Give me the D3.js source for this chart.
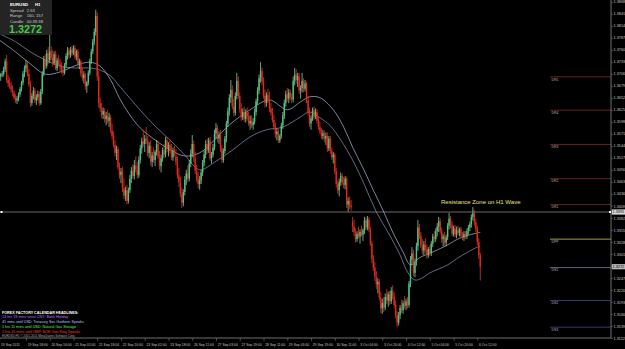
<!DOCTYPE html>
<html><head><meta charset="utf-8">
<script src="https://cdn.jsdelivr.net/npm/d3@7"></script>
<style>html,body{margin:0;padding:0;background:#000;overflow:hidden}text{font-family:"Liberation Sans",Arial,sans-serif}</style>
</head><body>
<svg id="c" width="625" height="349"></svg>
<script>
const symbol = "EURUSD", timeframe = "H1";
const opens = [1.3712,1.3700,1.3704,1.3706,1.3716,1.3734,1.3692,1.3684,1.3678,1.3670,
1.3662,1.3652,1.3646,1.3650,1.3660,1.3672,1.3686,1.3706,1.3718,1.3726,
1.3706,1.3682,1.3640,1.3656,1.3668,1.3646,1.3654,1.3660,1.3640,1.3666,
1.3706,1.3738,1.3724,1.3752,1.3736,1.3756,1.3742,1.3730,1.3750,1.3718,
1.3736,1.3728,1.3720,1.3712,1.3708,1.3726,1.3746,1.3758,1.3748,1.3760,
1.3752,1.3764,1.3744,1.3756,1.3728,1.3734,1.3706,1.3696,1.3704,1.3678,
1.3686,1.3708,1.3734,1.3756,1.3778,1.3800,1.3836,1.3700,1.3640,1.3628,
1.3614,1.3622,1.3604,1.3612,1.3600,1.3608,1.3578,1.3566,1.3546,1.3528,
1.3536,1.3496,1.3478,1.3486,1.3448,1.3432,1.3444,1.3420,1.3444,1.3470,
1.3488,1.3476,1.3500,1.3490,1.3478,1.3512,1.3538,1.3554,1.3548,1.3560,
1.3556,1.3528,1.3544,1.3508,1.3522,1.3512,1.3530,1.3548,1.3520,1.3498,
1.3516,1.3534,1.3524,1.3556,1.3538,1.3546,1.3532,1.3518,1.3534,1.3520,
1.3508,1.3478,1.3462,1.3436,1.3416,1.3440,1.3468,1.3482,1.3470,1.3504,
1.3526,1.3548,1.3516,1.3488,1.3470,1.3458,1.3466,1.3484,1.3506,1.3524,
1.3548,1.3534,1.3556,1.3516,1.3524,1.3540,1.3572,1.3584,1.3560,1.3568,
1.3538,1.3512,1.3532,1.3560,1.3594,1.3622,1.3652,1.3670,1.3632,1.3618,
1.3656,1.3690,1.3656,1.3626,1.3608,1.3620,1.3604,1.3618,1.3610,1.3594,
1.3600,1.3590,1.3598,1.3620,1.3644,1.3668,1.3696,1.3712,1.3688,1.3656,
1.3640,1.3658,1.3648,1.3628,1.3618,1.3602,1.3586,1.3570,1.3576,1.3556,
1.3566,1.3590,1.3612,1.3640,1.3660,1.3650,1.3664,1.3652,1.3648,1.3690,
1.3704,1.3692,1.3700,1.3668,1.3674,1.3690,1.3672,1.3684,1.3646,1.3618,
1.3594,1.3606,1.3624,1.3610,1.3620,1.3600,1.3586,1.3576,1.3566,1.3572,
1.3560,1.3566,1.3538,1.3560,1.3532,1.3518,1.3524,1.3486,1.3458,1.3444,
1.3462,1.3476,1.3462,1.3456,1.3470,1.3412,1.3420,1.3410,1.3372,1.3362,
1.3350,1.3334,1.3346,1.3340,1.3350,1.3344,1.3354,1.3376,1.3360,1.3378,
1.3356,1.3324,1.3290,1.3270,1.3250,1.3232,1.3238,1.3202,1.3178,1.3190,
1.3180,1.3204,1.3196,1.3210,1.3194,1.3218,1.3204,1.3186,1.3162,1.3146,
1.3164,1.3180,1.3174,1.3190,1.3184,1.3194,1.3186,1.3234,1.3288,1.3302,
1.3258,1.3282,1.3318,1.3360,1.3342,1.3320,1.3308,1.3322,1.3310,1.3298,
1.3312,1.3302,1.3324,1.3340,1.3334,1.3352,1.3362,1.3374,1.3352,1.3334,
1.3340,1.3326,1.3338,1.3364,1.3380,1.3366,1.3346,1.3358,1.3344,1.3354,
1.3348,1.3356,1.3342,1.3338,1.3346,1.3340,1.3352,1.3360,1.3368,1.3384,
1.3392,1.3372,1.3358,1.3328,1.3298];
const highs = [1.3718,1.3708,1.3712,1.3722,1.3740,1.3748,1.3702,1.3697,1.3688,1.3680,
1.3668,1.3660,1.3656,1.3664,1.3676,1.3690,1.3712,1.3724,1.3737,1.3734,
1.3716,1.3690,1.3662,1.3676,1.3674,1.3660,1.3668,1.3666,1.3672,1.3712,
1.3746,1.3750,1.3760,1.3766,1.3793,1.3768,1.3760,1.3756,1.3758,1.3742,
1.3748,1.3740,1.3732,1.3722,1.3730,1.3752,1.3766,1.3764,1.3766,1.3768,
1.3770,1.3770,1.3760,1.3762,1.3740,1.3738,1.3720,1.3712,1.3708,1.3690,
1.3714,1.3740,1.3762,1.3784,1.3808,1.3850,1.3844,1.3712,1.3652,1.3640,
1.3630,1.3628,1.3620,1.3624,1.3618,1.3614,1.3594,1.3576,1.3556,1.3544,
1.3542,1.3506,1.3494,1.3496,1.3470,1.3452,1.3456,1.3450,1.3478,1.3496,
1.3502,1.3512,1.3520,1.3508,1.3520,1.3546,1.3562,1.3580,1.3568,1.3586,
1.3566,1.3552,1.3556,1.3530,1.3540,1.3534,1.3557,1.3556,1.3532,1.3524,
1.3540,1.3548,1.3564,1.3562,1.3552,1.3558,1.3548,1.3540,1.3544,1.3536,
1.3520,1.3494,1.3474,1.3450,1.3446,1.3476,1.3490,1.3500,1.3512,1.3536,
1.3568,1.3556,1.3530,1.3502,1.3484,1.3476,1.3490,1.3512,1.3534,1.3556,
1.3560,1.3562,1.3564,1.3530,1.3548,1.3580,1.3595,1.3590,1.3576,1.3580,
1.3546,1.3538,1.3566,1.3600,1.3630,1.3660,1.3692,1.3680,1.3650,1.3664,
1.3708,1.3700,1.3664,1.3640,1.3628,1.3632,1.3626,1.3630,1.3620,1.3612,
1.3612,1.3606,1.3628,1.3650,1.3676,1.3704,1.3732,1.3720,1.3698,1.3670,
1.3664,1.3672,1.3666,1.3640,1.3630,1.3614,1.3596,1.3584,1.3582,1.3570,
1.3596,1.3620,1.3648,1.3668,1.3674,1.3672,1.3670,1.3662,1.3700,1.3719,
1.3716,1.3708,1.3708,1.3680,1.3708,1.3696,1.3692,1.3688,1.3656,1.3630,
1.3612,1.3630,1.3632,1.3628,1.3626,1.3608,1.3598,1.3584,1.3580,1.3578,
1.3574,1.3574,1.3566,1.3566,1.3540,1.3530,1.3528,1.3494,1.3466,1.3470,
1.3484,1.3482,1.3474,1.3476,1.3474,1.3428,1.3430,1.3422,1.3384,1.3378,
1.3358,1.3352,1.3362,1.3356,1.3364,1.3358,1.3384,1.3382,1.3386,1.3384,
1.3362,1.3330,1.3298,1.3282,1.3262,1.3246,1.3244,1.3216,1.3200,1.3204,
1.3212,1.3222,1.3216,1.3218,1.3226,1.3230,1.3214,1.3196,1.3172,1.3170,
1.3186,1.3198,1.3196,1.3206,1.3200,1.3204,1.3240,1.3296,1.3316,1.3310,
1.3290,1.3326,1.3377,1.3368,1.3350,1.3334,1.3330,1.3336,1.3322,1.3316,
1.3320,1.3330,1.3346,1.3352,1.3358,1.3370,1.3384,1.3380,1.3360,1.3346,
1.3350,1.3344,1.3370,1.3393,1.3386,1.3374,1.3364,1.3366,1.3362,1.3364,
1.3360,1.3362,1.3350,1.3352,1.3352,1.3358,1.3366,1.3374,1.3390,1.3406,
1.3400,1.3380,1.3364,1.3336,1.3304];
const lows = [1.3695,1.3690,1.3698,1.3700,1.3710,1.3686,1.3676,1.3672,1.3664,1.3655,
1.3648,1.3640,1.3638,1.3644,1.3654,1.3666,1.3680,1.3698,1.3710,1.3700,
1.3676,1.3631,1.3634,1.3648,1.3640,1.3636,1.3646,1.3634,1.3636,1.3660,
1.3700,1.3716,1.3718,1.3728,1.3730,1.3736,1.3722,1.3726,1.3714,1.3712,
1.3724,1.3712,1.3706,1.3700,1.3704,1.3720,1.3738,1.3740,1.3742,1.3746,
1.3748,1.3738,1.3736,1.3722,1.3716,1.3700,1.3690,1.3684,1.3670,1.3663,
1.3680,1.3702,1.3728,1.3750,1.3770,1.3792,1.3690,1.3630,1.3620,1.3606,
1.3604,1.3596,1.3590,1.3594,1.3586,1.3572,1.3558,1.3540,1.3520,1.3512,
1.3490,1.3470,1.3460,1.3440,1.3424,1.3420,1.3412,1.3414,1.3438,1.3460,
1.3470,1.3468,1.3484,1.3470,1.3472,1.3504,1.3526,1.3542,1.3530,1.3548,
1.3520,1.3516,1.3500,1.3496,1.3506,1.3498,1.3522,1.3514,1.3490,1.3484,
1.3508,1.3516,1.3518,1.3530,1.3520,1.3526,1.3512,1.3510,1.3520,1.3500,
1.3470,1.3451,1.3428,1.3404,1.3408,1.3432,1.3456,1.3462,1.3464,1.3496,
1.3518,1.3508,1.3480,1.3462,1.3448,1.3445,1.3458,1.3476,1.3498,1.3516,
1.3526,1.3528,1.3510,1.3504,1.3518,1.3534,1.3560,1.3552,1.3548,1.3530,
1.3505,1.3506,1.3526,1.3552,1.3586,1.3612,1.3640,1.3626,1.3610,1.3612,
1.3648,1.3650,1.3618,1.3600,1.3602,1.3598,1.3596,1.3600,1.3588,1.3580,
1.3584,1.3580,1.3592,1.3612,1.3636,1.3660,1.3686,1.3680,1.3650,1.3630,
1.3632,1.3640,1.3620,1.3612,1.3596,1.3580,1.3562,1.3556,1.3550,1.3550,
1.3560,1.3582,1.3604,1.3632,1.3644,1.3640,1.3646,1.3640,1.3642,1.3680,
1.3684,1.3676,1.3660,1.3650,1.3664,1.3664,1.3666,1.3640,1.3612,1.3586,
1.3580,1.3600,1.3602,1.3604,1.3594,1.3580,1.3570,1.3560,1.3558,1.3552,
1.3546,1.3530,1.3532,1.3526,1.3512,1.3504,1.3480,1.3450,1.3436,1.3430,
1.3454,1.3456,1.3448,1.3446,1.3404,1.3396,1.3402,1.3398,1.3350,1.3340,
1.3326,1.3328,1.3336,1.3324,1.3340,1.3330,1.3346,1.3354,1.3354,1.3350,
1.3318,1.3280,1.3262,1.3240,1.3222,1.3212,1.3196,1.3168,1.3166,1.3170,
1.3174,1.3188,1.3182,1.3186,1.3188,1.3198,1.3180,1.3156,1.3136,1.3140,
1.3154,1.3168,1.3166,1.3178,1.3174,1.3178,1.3180,1.3226,1.3276,1.3250,
1.3248,1.3274,1.3308,1.3334,1.3314,1.3300,1.3298,1.3302,1.3290,1.3292,
1.3296,1.3296,1.3316,1.3326,1.3328,1.3340,1.3350,1.3346,1.3326,1.3318,
1.3320,1.3318,1.3332,1.3356,1.3358,1.3340,1.3340,1.3338,1.3336,1.3342,
1.3340,1.3336,1.3332,1.3330,1.3334,1.3334,1.3344,1.3352,1.3360,1.3376,
1.3364,1.3350,1.3320,1.3290,1.3241];
const closes = [1.3700,1.3704,1.3706,1.3716,1.3734,1.3692,1.3684,1.3678,1.3670,1.3662,
1.3652,1.3646,1.3650,1.3660,1.3672,1.3686,1.3706,1.3718,1.3726,1.3706,
1.3682,1.3640,1.3656,1.3668,1.3646,1.3654,1.3660,1.3640,1.3666,1.3706,
1.3738,1.3724,1.3752,1.3736,1.3756,1.3742,1.3730,1.3750,1.3718,1.3736,
1.3728,1.3720,1.3712,1.3708,1.3726,1.3746,1.3758,1.3748,1.3760,1.3752,
1.3764,1.3744,1.3756,1.3728,1.3734,1.3706,1.3696,1.3704,1.3678,1.3686,
1.3708,1.3734,1.3756,1.3778,1.3800,1.3836,1.3700,1.3640,1.3628,1.3614,
1.3622,1.3604,1.3612,1.3600,1.3608,1.3578,1.3566,1.3546,1.3528,1.3536,
1.3496,1.3478,1.3486,1.3448,1.3432,1.3444,1.3420,1.3444,1.3470,1.3488,
1.3476,1.3500,1.3490,1.3478,1.3512,1.3538,1.3554,1.3548,1.3560,1.3556,
1.3528,1.3544,1.3508,1.3522,1.3512,1.3530,1.3548,1.3520,1.3498,1.3516,
1.3534,1.3524,1.3556,1.3538,1.3546,1.3532,1.3518,1.3534,1.3526,1.3508,
1.3478,1.3462,1.3436,1.3416,1.3440,1.3468,1.3482,1.3470,1.3504,1.3526,
1.3548,1.3516,1.3488,1.3470,1.3458,1.3466,1.3484,1.3506,1.3524,1.3548,
1.3534,1.3556,1.3516,1.3524,1.3540,1.3572,1.3584,1.3560,1.3568,1.3538,
1.3512,1.3532,1.3560,1.3594,1.3622,1.3652,1.3670,1.3632,1.3618,1.3656,
1.3690,1.3656,1.3626,1.3608,1.3620,1.3604,1.3618,1.3610,1.3594,1.3600,
1.3590,1.3598,1.3620,1.3644,1.3668,1.3696,1.3712,1.3688,1.3656,1.3640,
1.3658,1.3648,1.3628,1.3618,1.3602,1.3586,1.3570,1.3576,1.3556,1.3566,
1.3590,1.3612,1.3640,1.3660,1.3650,1.3664,1.3652,1.3648,1.3690,1.3704,
1.3692,1.3700,1.3668,1.3674,1.3690,1.3672,1.3684,1.3646,1.3618,1.3594,
1.3606,1.3624,1.3610,1.3620,1.3600,1.3586,1.3576,1.3566,1.3572,1.3560,
1.3566,1.3538,1.3560,1.3532,1.3518,1.3524,1.3486,1.3458,1.3444,1.3462,
1.3476,1.3462,1.3456,1.3470,1.3412,1.3420,1.3410,1.3406,1.3362,1.3350,
1.3334,1.3346,1.3340,1.3350,1.3344,1.3354,1.3376,1.3360,1.3378,1.3356,
1.3324,1.3290,1.3270,1.3250,1.3232,1.3238,1.3202,1.3178,1.3190,1.3180,
1.3204,1.3196,1.3210,1.3194,1.3218,1.3204,1.3186,1.3162,1.3146,1.3164,
1.3180,1.3174,1.3190,1.3184,1.3194,1.3186,1.3234,1.3288,1.3302,1.3258,
1.3282,1.3318,1.3360,1.3342,1.3320,1.3308,1.3322,1.3310,1.3298,1.3312,
1.3302,1.3324,1.3340,1.3334,1.3352,1.3362,1.3374,1.3352,1.3334,1.3340,
1.3326,1.3338,1.3364,1.3380,1.3366,1.3346,1.3358,1.3344,1.3354,1.3348,
1.3356,1.3342,1.3338,1.3346,1.3340,1.3352,1.3360,1.3368,1.3384,1.3392,
1.3372,1.3358,1.3328,1.3298,1.3272];

const maFastBars = [0,11,21,31,41,51,61,68,75,81,88,95,105,115,125,135,145,155,169,182,194,203,209,216,225,232,238,245,252,259,265,272,277,283,292,302,310,322,324];
const maFastVals = [1.3782,1.3755,1.3728,1.3705,1.3710,1.3724,1.3732,1.3723,1.3692,1.3651,1.3613,1.3584,1.3557,1.3535,1.3521,1.3528,1.3557,1.3591,1.3625,1.3647,1.3625,1.3643,1.3654,1.3652,1.3625,1.3586,1.3541,1.3494,1.3444,1.3395,1.3350,1.3305,1.3276,1.3292,1.3305,1.3321,1.3336,1.3348,1.3349];
const maSlowBars = [0,11,21,31,41,51,61,68,75,81,88,95,105,115,125,135,145,157,169,180,191,203,209,216,223,230,238,246,254,263,270,275,280,285,290,302,310,322,324];
const maSlowVals = [1.3796,1.3778,1.3755,1.3737,1.3723,1.3719,1.3719,1.3714,1.3701,1.3678,1.3651,1.3624,1.3588,1.3557,1.3523,1.3490,1.3507,1.3534,1.3564,1.3580,1.3586,1.3609,1.3620,1.3607,1.3589,1.3557,1.3512,1.3456,1.3395,1.3343,1.3298,1.3260,1.3242,1.3247,1.3258,1.3276,1.3294,1.3316,1.3318];

const priceTicks = [1.3868,1.3841,1.3814,1.3787,1.3760,1.3733,1.3706,1.3679,1.3652,1.3625,1.3598,1.3571,1.3544,1.3517,1.3490,1.3463,1.3436,1.3409,1.3382,1.3355,1.3328,1.3301,1.3274,1.3247,1.3220,1.3193,1.3166,1.3139,1.3112];
const timeLabelBars = [0,18,34,50,66,82,98,114,130,146,162,178,194,210,226,242,258,274,290,306,322];
const timeLabels = ["19 Sep 2011","19 Sep 18:00","20 Sep 10:00","21 Sep 02:00","21 Sep 18:00","22 Sep 10:00","23 Sep 02:00","23 Sep 18:00","26 Sep 11:00","27 Sep 03:00","27 Sep 19:00","28 Sep 11:00","29 Sep 03:00","29 Sep 19:00","30 Sep 11:00","3 Oct 04:00","3 Oct 20:00","4 Oct 12:00","5 Oct 04:00","5 Oct 20:00","6 Oct 12:00"];

const pivotNames = ["DR5","DR4","DR3","DR2","DR1","DPP","DS1","DS2","DS3"];
const pivotLevels = [1.3699,1.3624,1.3547,1.3470,1.3412,1.3334,1.3270,1.3196,1.3136];
const pivotColors = ["#7a2222","#7a2222","#7a2222","#7a2222","#7a2222","#b8b040","#6c6c98","#3c3c88","#3c3c88"];

const resistanceLevel = 1.3395;
const resistanceText = "Resistance Zone on H1 Wave";
const bidPrice = 1.3272;
const infoLabels = ["Spread","Range","Candle"];
const infoValues = ["2.63","160, 157","00:39:38"];
const headlineTitle = "FOREX FACTORY CALENDAR HEADLINES:";
const headlines = ["13 hrs 19 mins since CNY: Bank Holiday","41 mins until USD: Treasury Sec Geithner Speaks","1 hrs 11 mins until USD: Natural Gas Storage","2 hrs 41 mins until GBP: BOE Gov King Speaks"];
const headlineColors = ["#c070ff","#b8c8ff","#40ff40","#ff3030"];
const copyright = "EURUSD,H1  \u00a9 2001-2011 MetaQuotes Software Corp.";

const W = 625, H = 349, axisX = 611, axisY = 338;
const svg = d3.select("#c");
svg.append("rect").attr("width", W).attr("height", H).attr("fill", "#000");

const x = d3.scaleLinear().domain([0, 324]).range([-0.77, -0.77 + 324 * 1.4847]);
const y = d3.scaleLinear().domain([1.3868, 1.3272]).range([1.7, 266.7]);

// pivot lines
const pg = svg.append("g");
pivotLevels.forEach((p, k) => {
  pg.append("line").attr("x1", 550).attr("x2", axisX).attr("y1", y(p)).attr("y2", y(p))
    .attr("stroke", pivotColors[k]).attr("stroke-width", 0.9);
  pg.append("text").attr("x", 551.5).attr("y", y(p) + 3.8).attr("fill", "#b8b8b8")
    .attr("font-size", 3.4).text(pivotNames[k]);
});

// resistance line
svg.append("line").attr("x1", 0).attr("x2", axisX).attr("y1", y(resistanceLevel)).attr("y2", y(resistanceLevel))
  .attr("stroke", "#9a9a9a").attr("stroke-width", 0.7);
svg.append("rect").attr("x", 0.5).attr("y", y(resistanceLevel) - 1).attr("width", 2).attr("height", 2).attr("fill", "#fff");
svg.append("text").attr("x", 441).attr("y", 203.6).attr("fill", "#ece07e").attr("font-size", 6).text(resistanceText);

// moving averages
const line = d3.line().curve(d3.curveCatmullRom.alpha(0.5));
svg.append("path").attr("d", line(maSlowBars.map((b, k) => [x(b), y(maSlowVals[k])])))
  .attr("fill", "none").attr("stroke", "#8e98b8").attr("stroke-width", 0.7);
svg.append("path").attr("d", line(maFastBars.map((b, k) => [x(b), y(maFastVals[k])])))
  .attr("fill", "none").attr("stroke", "#b4bcd8").attr("stroke-width", 0.7);

// candles
const bars = d3.range(closes.length).map(i => ({i, o: opens[i], h: highs[i], l: lows[i], c: closes[i]}));
const cg = svg.append("g");
cg.selectAll("line").data(bars).join("line")
  .attr("x1", d => x(d.i)).attr("x2", d => x(d.i))
  .attr("y1", d => y(d.h)).attr("y2", d => y(d.l))
  .attr("stroke", d => d.c >= d.o ? "#8fdcac" : "#e0402c").attr("stroke-width", 0.75);
cg.selectAll("rect").data(bars).join("rect")
  .attr("x", d => x(d.i) - 0.7).attr("width", 1.4)
  .attr("y", d => y(Math.max(d.o, d.c)))
  .attr("height", d => Math.max(0.6, Math.abs(y(d.o) - y(d.c))))
  .attr("fill", d => d.c >= d.o ? "#46c884" : "#ec2418");

// frame lines
svg.append("line").attr("x1", axisX).attr("x2", axisX).attr("y1", 0).attr("y2", axisY).attr("stroke", "#8a8a8a").attr("stroke-width", 0.8);
svg.append("line").attr("x1", 0).attr("x2", axisX).attr("y1", axisY).attr("y2", axisY).attr("stroke", "#8a8a8a").attr("stroke-width", 0.8);

// price axis
const ya = d3.axisRight(y).tickValues(priceTicks).tickFormat(d3.format(".4f")).tickSize(2);
const gy = svg.append("g").attr("transform", `translate(${axisX},0)`).call(ya);
gy.select(".domain").remove();
gy.selectAll("line").attr("stroke", "#8a8a8a").attr("stroke-width", 0.5);
gy.selectAll("text").attr("x", 2.6).attr("fill", "#c4c4c4").attr("font-size", 3.8)
  .attr("font-family", "Liberation Sans, Arial, sans-serif");

// time axis
const xa = d3.axisBottom(x).tickValues(timeLabelBars).tickFormat((d, k) => timeLabels[k]).tickSize(3);
const gx = svg.append("g").attr("transform", `translate(0,${axisY})`).call(xa);
gx.select(".domain").remove();
gx.selectAll("line").attr("stroke", "#8a8a8a").attr("stroke-width", 0.5);
gx.selectAll("text").attr("text-anchor", "start").attr("x", 1.2).attr("y", 5.4).attr("fill", "#c0c0c0")
  .attr("font-size", 3.4).attr("font-family", "Liberation Sans, Arial, sans-serif");

// highlighted price labels
[[resistanceLevel, "#d8d8d8"], [bidPrice, "#b8b8b8"]].forEach(([p, col]) => {
  svg.append("rect").attr("x", axisX + 0.8).attr("y", y(p) - 2.6).attr("width", 13.2).attr("height", 5.2).attr("fill", col);
  svg.append("text").attr("x", axisX + 1.6).attr("y", y(p) + 1.4).attr("fill", "#000").attr("font-size", 3.8).text(d3.format(".4f")(p));
});
svg.append("rect").attr("x", axisX - 2).attr("y", y(resistanceLevel) - 1).attr("width", 2).attr("height", 2).attr("fill", "#fff");

// info box
svg.append("rect").attr("x", 0).attr("y", 0).attr("width", 52).attr("height", 35).attr("fill", "#242424");
svg.append("text").attr("x", 10).attr("y", 6.4).attr("fill", "#fff").attr("font-size", 4.3).attr("font-weight", "bold").text(symbol);
svg.append("text").attr("x", 35).attr("y", 6.4).attr("fill", "#fff").attr("font-size", 4.3).attr("font-weight", "bold").text(timeframe);
infoLabels.forEach((t, k) => {
  svg.append("text").attr("x", 10).attr("y", 11.9 + k * 5.3).attr("fill", "#c8c8c8").attr("font-size", 4.2).text(t);
  svg.append("text").attr("x", 26.7).attr("y", 11.9 + k * 5.3).attr("fill", "#c8c8c8").attr("font-size", 4.2).text(infoValues[k]);
});
svg.append("text").attr("x", 9).attr("y", 33.4).attr("fill", "#48c848").attr("font-size", 10.8).attr("font-weight", "bold").text(d3.format(".4f")(bidPrice));

// headlines
svg.append("text").attr("x", 2).attr("y", 313.6).attr("fill", "#fff").attr("font-size", 3.7).attr("font-weight", "bold").text(headlineTitle);
headlines.forEach((t, k) => {
  svg.append("text").attr("x", 2).attr("y", 318.4 + k * 4.7).attr("fill", headlineColors[k]).attr("font-size", 3.7).text(t);
});
svg.append("text").attr("x", 2).attr("y", 336.9).attr("fill", "#a8a8a8").attr("font-size", 3).text(copyright);
</script>
</body></html>
